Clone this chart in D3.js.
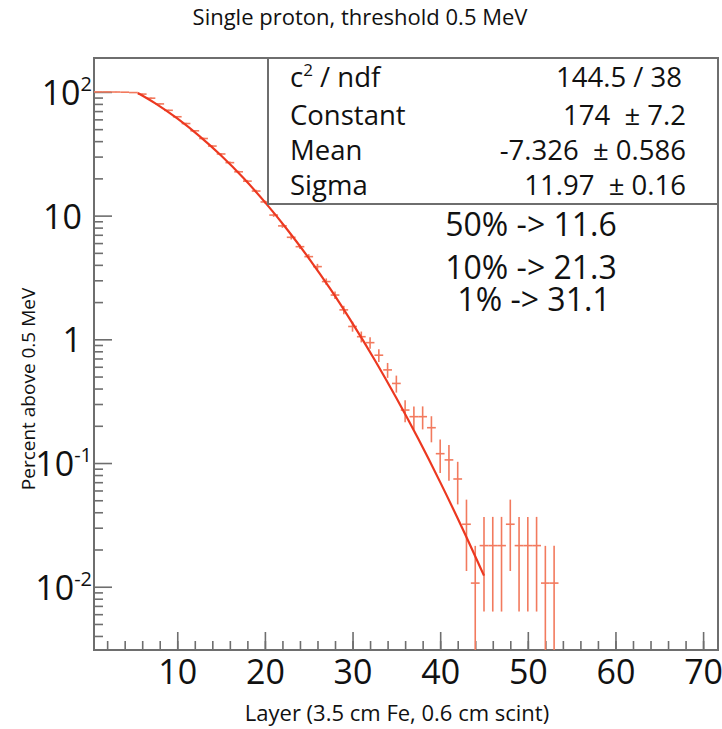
<!DOCTYPE html>
<html><head><meta charset="utf-8">
<script src="https://cdn.jsdelivr.net/npm/d3@7"></script>
<style>
html,body{margin:0;padding:0;background:#fff;}
text{font-family:"Open Sans",sans-serif;fill:#111;}
</style></head>
<body>
<svg id="chart" width="722" height="729"></svg>
<script>
// ---- data ----
const layers = d3.range(1, 54);
const percent = [100, 100, 99.8, 99.5, 98.8, 96, 89, 80, 71, 63,
  55.5, 48.5, 42, 36.5, 31.5, 26.8, 22.6, 19, 15.8, 12.9,
  10.1, 8.26, 6.68, 5.61, 4.66, 3.87, 2.93, 2.28, 1.73, 1.27,
  1.05, 0.94, 0.744, 0.566, 0.44, 0.268, 0.237, 0.237, 0.193, 0.119,
  0.106, 0.0743, 0.032, 0.0107, 0.0215, 0.0215, 0.0215, 0.032, 0.0215, 0.0215,
  0.0215, 0.0107, 0.0107];
const percentErr = [0.3, 0.3, 0.3, 0.3, 0.3, 1.0, 0.98, 0.93, 0.87, 0.82,
  0.77, 0.72, 0.67, 0.63, 0.58, 0.54, 0.49, 0.45, 0.41, 0.37,
  0.33, 0.30, 0.27, 0.245, 0.224, 0.204, 0.177, 0.157, 0.136, 0.117,
  0.106, 0.10, 0.089, 0.078, 0.069, 0.054, 0.05, 0.05, 0.046, 0.036,
  0.034, 0.028, 0.0186, 0.0107, 0.0152, 0.0152, 0.0152, 0.0186, 0.0152, 0.0152,
  0.0152, 0.0107, 0.0107];
// fitted curve (Gaussian fit drawn in the picture), read at these layers
const fitLayer = [5.5, 7.5, 10, 12.5, 15, 17.5, 20, 22.5, 25, 27.5, 30, 32.5, 35, 37.5, 40, 42.5, 45];
const fitPercent = [98.0, 80.8, 61.0, 44.1, 30.6, 20.3, 12.85, 7.80, 4.54, 2.53, 1.345, 0.687, 0.335, 0.1568, 0.0701, 0.0300, 0.0123];

const xMajorTicks = [10, 20, 30, 40, 50, 60, 70];
const xMinorTicks = d3.range(2, 72, 2);
const yMajorTicks = [0.01, 0.1, 1, 10, 100];
const yTickBase = ["10", "10", "1", "10", "10"];
const yTickExp = ["-2", "-1", "", "", "2"];

const title = "Single proton, threshold 0.5 MeV";
const xTitle = "Layer (3.5 cm Fe, 0.6 cm scint)";
const yTitle = "Percent above 0.5 MeV";
const statLabels = ["c", "Constant", "Mean", "Sigma"];
const statValues = ["144.5 / 38", "174  \u00b1 7.2", "-7.326  \u00b1 0.586", "11.97  \u00b1 0.16"];
const notes = ["50% -> 11.6", "10% -> 21.3", "1% -> 31.1"];

// ---- layout ----
const L = 94, R = 718, T = 58, B = 650;
const svg = d3.select("#chart");
const x = d3.scaleLinear().domain([0.5, 71.7]).range([L, R]);
const y = d3.scaleLog().domain([0.00308, 188]).range([B, T]);
const frameCol = "#6e6e6e";
const dataCol = "#f27a5e";
const fitCol = "#ec3820";

svg.append("rect").attr("width", 722).attr("height", 729).attr("fill", "#fff");

// ticks
const yMinor = [];
yMajorTicks.concat([0.001]).forEach(d => { for (let k = 2; k <= 9; k++) { const v = d * k; if (v > 0.00308 && v < 188) yMinor.push(v); } });

svg.append("g").attr("transform", `translate(0,${B})`)
  .call(d3.axisBottom(x).tickValues(xMinorTicks).tickSize(-9).tickFormat(""))
  .call(g => { g.select(".domain").remove(); g.selectAll("line").attr("stroke", frameCol).attr("stroke-width", 1.6); });
svg.append("g").attr("transform", `translate(0,${B})`)
  .call(d3.axisBottom(x).tickValues(xMajorTicks).tickSize(-18).tickPadding(0).tickFormat(d3.format("d")))
  .call(g => {
    g.select(".domain").remove();
    g.selectAll("line").attr("stroke", frameCol).attr("stroke-width", 1.6);
    g.selectAll("text").attr("y", 34).attr("dy", 0).attr("font-size", 34).attr("font-family", "Open Sans").attr("fill", "#111");
  });
svg.append("g").attr("transform", `translate(${L},0)`)
  .call(d3.axisLeft(y).tickValues(yMinor).tickSize(-9).tickFormat(""))
  .call(g => { g.select(".domain").remove(); g.selectAll("line").attr("stroke", frameCol).attr("stroke-width", 1.6); });
svg.append("g").attr("transform", `translate(${L},0)`)
  .call(d3.axisLeft(y).tickValues(yMajorTicks).tickSize(-18).tickFormat(""))
  .call(g => { g.select(".domain").remove(); g.selectAll("line").attr("stroke", frameCol).attr("stroke-width", 1.6); });

// y tick labels with exponents
yMajorTicks.forEach((v, i) => {
  const hasExp = yTickExp[i] !== "";
  const t = svg.append("text").attr("x", hasExp ? 92 : 82).attr("y", y(v) + 13)
    .attr("text-anchor", "end").attr("font-size", 34);
  t.append("tspan").text(yTickBase[i]);
  if (hasExp) t.append("tspan").attr("dy", -14).attr("font-size", 20).text(yTickExp[i]);
});

// frame
svg.append("rect").attr("x", L).attr("y", T).attr("width", R - L).attr("height", B - T)
  .attr("fill", "none").attr("stroke", frameCol).attr("stroke-width", 2);

// clip
svg.append("clipPath").attr("id", "clip").append("rect").attr("x", L).attr("y", T).attr("width", R - L).attr("height", B - T);
const plot = svg.append("g").attr("clip-path", "url(#clip)");

// data error bars
const pts = layers.map((l, i) => ({ l, v: percent[i], e: percentErr[i] }));
const dg = plot.append("g").attr("stroke", dataCol).attr("stroke-width", 1.6);
pts.forEach(p => {
  dg.append("line").attr("x1", x(p.l - 0.5)).attr("x2", x(p.l + 0.5)).attr("y1", y(p.v)).attr("y2", y(p.v));
  const lo = p.v - p.e;
  dg.append("line").attr("x1", x(p.l)).attr("x2", x(p.l))
    .attr("y1", lo > 0.00308 ? y(lo) : B).attr("y2", y(p.v + p.e));
});

// fit curve
plot.append("path")
  .datum(fitLayer.map((l, i) => [l, fitPercent[i]]))
  .attr("fill", "none").attr("stroke", fitCol).attr("stroke-width", 2.2)
  .attr("d", d3.line().x(d => x(d[0])).y(d => y(d[1])).curve(d3.curveMonotoneX));

// stats box
const bx = 268, bb = 204;
svg.append("rect").attr("x", bx).attr("y", T).attr("width", R - bx).attr("height", bb - T)
  .attr("fill", "#fff").attr("stroke", frameCol).attr("stroke-width", 2);
const rowY = [87, 125, 160, 195];
statLabels.forEach((s, i) => {
  const t = svg.append("text").attr("x", 290).attr("y", rowY[i]).attr("font-size", 27.5);
  t.append("tspan").text(s);
  if (i === 0) {
    t.append("tspan").attr("dy", -11).attr("font-size", 17).text("2");
    t.append("tspan").attr("dy", 11).text(" / ndf");
  }
  svg.append("text").attr("x", i === 0 ? 682 : 686).attr("y", rowY[i]).attr("text-anchor", "end")
    .attr("font-size", 27.5).attr("xml:space", "preserve").style("white-space", "pre").text(statValues[i]);
});

// notes
const noteY = [236, 279, 311];
const noteX = [531, 531, 534];
notes.forEach((s, i) => {
  svg.append("text").attr("x", noteX[i]).attr("y", noteY[i]).attr("text-anchor", "middle").attr("font-size", 32).text(s);
});

// titles
svg.append("text").attr("x", 360).attr("y", 25).attr("text-anchor", "middle").attr("font-size", 22).text(title);
svg.append("text").attr("x", 397).attr("y", 721).attr("text-anchor", "middle").attr("font-size", 22).text(xTitle);
svg.append("text").attr("transform", "translate(35,389) rotate(-90)").attr("text-anchor", "middle").attr("font-size", 19).text(yTitle);
</script>
</body></html>
